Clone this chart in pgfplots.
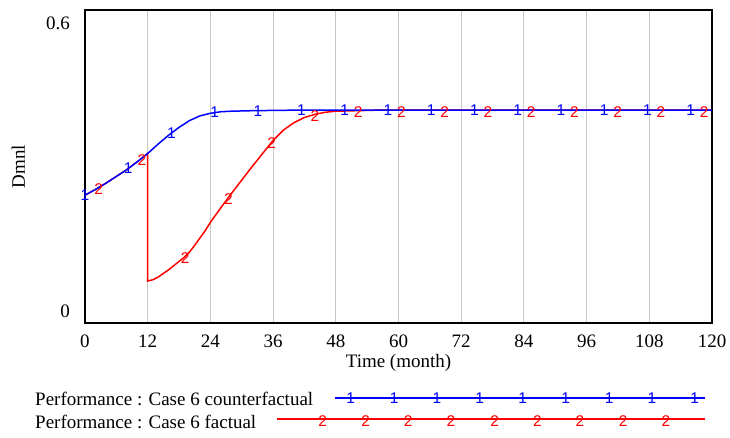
\documentclass[border=0pt]{standalone}
\usepackage{fontspec}
\setmainfont{Liberation Serif}
\setsansfont{Liberation Sans}
\usepackage{pgfplots}
\pgfplotsset{compat=1.18}

\definecolor{vblue}{RGB}{0,0,255}
\definecolor{vred}{RGB}{255,0,0}
\definecolor{vgrid}{RGB}{200,200,200}

\pgfplotsset{
  numtag/.style={only marks, mark=text, text mark as node=true,
    text mark={#1}, forget plot},
}
\tikzset{tagfont/.style={font=\sffamily\fontsize{15.5}{15.5}\selectfont, inner sep=0pt}}

\begin{document}
\begin{tikzpicture}[font=\fontsize{19}{22}\selectfont]
\begin{axis}[
    name=main,
    scale only axis, width=627pt, height=313pt,
    xmin=0, xmax=120, ymin=0, ymax=0.6,
    xtick={0,12,...,120},
    ytick={0.022,0.574}, yticklabels={0,0.6},
    major tick length=0pt,
    xmajorgrids, major grid style={vgrid, line width=0.9pt},
    axis line style={line width=2.2pt},
    /pgf/number format/assume math mode=true,
    xticklabel style={anchor=north, inner sep=0pt, yshift=-12pt},
    yticklabel style={anchor=east, inner sep=0pt, xshift=-15pt},
    xlabel={Time (month)},
    ylabel={Dmnl},
    every axis x label/.style={at={(axis description cs:0.5,-0.1406)}, anchor=base},
    every axis y label/.style={at={(axis description cs:-0.0957,0.5)}, anchor=base, rotate=90},
    clip=false,
]
% factual (red)
\addplot[vred, line width=1.5pt] coordinates {
  (0,0.245)(2,0.256)(4,0.268)(6,0.281)(8,0.294)(10,0.309)(12,0.325)
  (12,0.0805)(13,0.083)(14,0.088)(15,0.095)(16,0.102)(17,0.110)(18,0.118)
  (19,0.126)(20,0.136)(21,0.149)(22,0.163)(23,0.177)(24,0.193)(26,0.221)
  (28,0.248)(30,0.274)(32,0.300)(34,0.325)(36,0.350)(38,0.370)(40,0.384)
  (42,0.394)(44,0.400)(46,0.404)(48,0.406)(52,0.407)(56,0.408)(120,0.408)};
% counterfactual (blue)
\addplot[vblue, line width=1.5pt] coordinates {
  (0,0.245)(2,0.256)(4,0.268)(6,0.281)(8,0.294)(10,0.309)(12,0.325)
  (14,0.343)(16,0.360)(18,0.375)(20,0.388)(22,0.397)(24,0.402)(26,0.405)
  (28,0.406)(32,0.407)(40,0.408)(120,0.408)};
% series tags
\addplot[numtag=2, text mark style={tagfont, text=vred, yshift=-1.5pt}] coordinates {
  (2.6,0.260)(10.88,0.316)(19.16,0.128)(27.44,0.240)(35.72,0.347)(44.0,0.400)
  (52.28,0.407)(60.56,0.408)(68.84,0.408)(77.12,0.408)(85.4,0.408)
  (93.68,0.408)(101.96,0.408)(110.24,0.408)(118.52,0.408)};
\addplot[numtag=1, text mark style={tagfont, text=vblue}] coordinates {
  (0,0.245)(8.28,0.296)(16.56,0.364)(24.84,0.404)(33.12,0.407)(41.4,0.408)
  (49.68,0.408)(57.96,0.408)(66.24,0.408)(74.52,0.408)(82.8,0.408)
  (91.08,0.408)(99.36,0.408)(107.64,0.408)(115.92,0.408)};
\end{axis}

% legend rows, laid out in reference pixel units
\begin{axis}[
    scale only axis, width=627pt, height=313pt,
    xmin=85, xmax=712, ymin=0, ymax=313,
    hide axis, clip=false,
]
\addplot[draw=vred, line width=1.6pt] coordinates {(277,-96)(705,-96)};
\addplot[draw=vblue, line width=1.5pt] coordinates {(335,-75)(705,-75)};
\addplot[numtag=1, text mark style={tagfont, text=vblue}] coordinates {
  (350.6,-75)(394.2,-75)(436.9,-75)(479.7,-75)(522.8,-75)(565.6,-75)
  (609.1,-75)(651.9,-75)(694.6,-75)};
\addplot[numtag=2, text mark style={tagfont, text=vred, yshift=-2.5pt}] coordinates {
  (322.8,-96)(365.6,-96)(408.3,-96)(451,-96)(494.6,-96)
  (537.4,-96)(580,-96)(623.2,-96)(666,-96)};
\node[anchor=base west, inner sep=0pt] at (axis cs:35,-82) {Performance : Case 6 counterfactual};
\node[anchor=base west, inner sep=0pt] at (axis cs:35,-105.3) {Performance : Case 6 factual};
\end{axis}

\pgfresetboundingbox
\path (-85pt,-114pt) rectangle (645pt,323pt);
\end{tikzpicture}
\end{document}
